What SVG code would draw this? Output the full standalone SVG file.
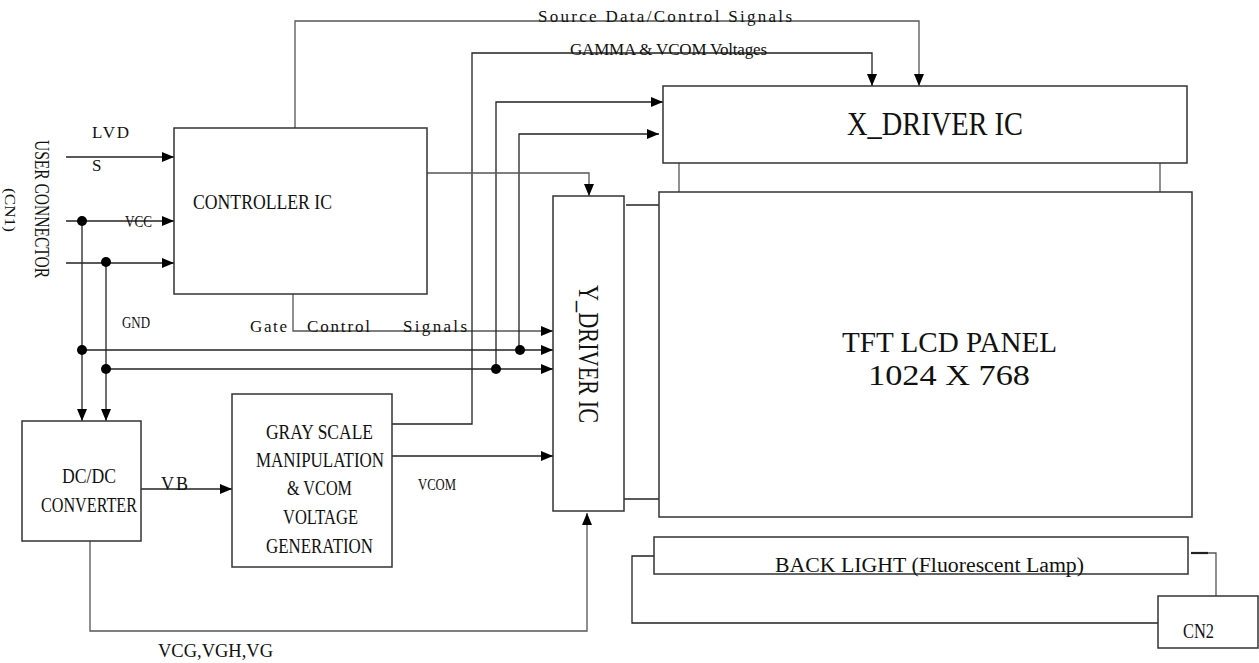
<svg xmlns="http://www.w3.org/2000/svg" width="1259" height="663" viewBox="0 0 1259 663">
<style>
.box{fill:#fff;stroke:#333;stroke-width:1.5}
.ln{fill:none;stroke:#222;stroke-width:1.3}
.lg{fill:none;stroke:#555;stroke-width:1.3}
.dot{fill:#000}
text{font-family:"Liberation Serif",serif;fill:#111}
.lbl{font-size:17px}
</style>
<defs>
<marker id="ah" markerUnits="userSpaceOnUse" markerWidth="12" markerHeight="12" viewBox="0 0 12 12" refX="12" refY="6" orient="auto">
<path d="M0,1 L12,6 L0,11 Z" fill="#000"/>
</marker>
</defs>
<rect width="1259" height="663" fill="#fff"/>

<g id="connectors">
<path class="ln" d="M66,157 H174" marker-end="url(#ah)"/>
<path class="ln" d="M66,221 H174" marker-end="url(#ah)"/>
<path class="ln" d="M66,263 H174" marker-end="url(#ah)"/>
<path class="ln" d="M82,221 V421" marker-end="url(#ah)"/>
<path class="ln" d="M106,262 V421" marker-end="url(#ah)"/>
<path class="ln" d="M82,350 H553" marker-end="url(#ah)"/>
<path class="ln" d="M106,369 H553" marker-end="url(#ah)"/>
<path class="lg" d="M293,294 V331 H553" marker-end="url(#ah)"/>
<path class="lg" d="M295,128 V21 H919 V86" marker-end="url(#ah)"/>
<path class="ln" d="M392,424 H472 V53 H872 V86" marker-end="url(#ah)"/>
<path class="ln" d="M496,369 V102 H663" marker-end="url(#ah)"/>
<path class="ln" d="M519,350 V134 H659" marker-end="url(#ah)"/>
<path class="lg" d="M427,173 H589 V196" marker-end="url(#ah)"/>
<path class="ln" d="M392,456 H553" marker-end="url(#ah)"/>
<path class="ln" d="M141,489 H232" marker-end="url(#ah)"/>
<path class="lg" d="M90,541 V631 H587 V513" marker-end="url(#ah)"/>
<path class="lg" d="M679,163 V192"/>
<path class="lg" d="M1160,163 V196"/>
<path class="ln" d="M626,205 H659"/>
<path class="ln" d="M624,499 H659"/>
<path class="ln" d="M654,556 H632 V623 H1158"/>
<path class="ln" d="M1191,553 H1208" style="stroke-width:2.2"/>
<path class="lg" d="M1208,553 H1216 V596"/>
<circle class="dot" cx="82" cy="221" r="5"/>
<circle class="dot" cx="106" cy="262" r="5"/>
<circle class="dot" cx="82" cy="350" r="5"/>
<circle class="dot" cx="106" cy="369" r="5"/>
<circle class="dot" cx="520" cy="350" r="5"/>
<circle class="dot" cx="496" cy="369" r="5"/>
<text class="lbl" x="538" y="22" textLength="254">Source Data/Control Signals</text>
<text class="lbl" x="570" y="55" textLength="197">GAMMA &amp; VCOM Voltages</text>
<text class="lbl" x="250" y="332" textLength="37">Gate</text>
<text class="lbl" x="307" y="332" textLength="63">Control</text>
<text class="lbl" x="403" y="332" textLength="64">Signals</text>
<text x="92" y="138" font-size="17" textLength="37">LVD</text>
<text x="92" y="171" font-size="17">S</text>
<text x="125" y="227" font-size="16" textLength="27" lengthAdjust="spacingAndGlyphs">VCC</text>
<text x="122" y="328" font-size="16" textLength="28" lengthAdjust="spacingAndGlyphs">GND</text>
<text x="418" y="490" font-size="16" textLength="38" lengthAdjust="spacingAndGlyphs">VCOM</text>
<text x="161" y="490" font-size="18" textLength="27">VB</text>
<text x="158" y="657" font-size="18" textLength="115" lengthAdjust="spacingAndGlyphs">VCG,VGH,VG</text>
</g>

<g id="user-connector">
<text transform="translate(35,140) rotate(90)" font-size="21" textLength="138" lengthAdjust="spacingAndGlyphs">USER CONNECTOR</text>
<text transform="translate(5,188) rotate(90)" font-size="15" textLength="44" lengthAdjust="spacingAndGlyphs">(CN1)</text>
</g>

<g id="controller">
<rect class="box" x="174" y="128" width="253" height="166"/>
<text x="193" y="209" font-size="21" textLength="139" lengthAdjust="spacingAndGlyphs">CONTROLLER IC</text>
</g>

<g id="x-driver">
<rect class="box" x="663" y="86" width="524" height="77"/>
<text x="847" y="135" font-size="34" textLength="176" lengthAdjust="spacingAndGlyphs">X_DRIVER IC</text>
</g>

<g id="y-driver">
<rect class="box" x="553" y="196" width="71" height="315"/>
<text transform="translate(579,285) rotate(90)" font-size="29" textLength="138" lengthAdjust="spacingAndGlyphs">Y_DRIVER IC</text>
</g>

<g id="tft-panel">
<rect class="box" x="659" y="192" width="533" height="325"/>
<text x="842" y="352" font-size="30" textLength="215" lengthAdjust="spacingAndGlyphs">TFT LCD PANEL</text>
<text x="868" y="385" font-size="30" textLength="162" lengthAdjust="spacingAndGlyphs">1024 X 768</text>
</g>

<g id="dcdc">
<rect class="box" x="22" y="421" width="119" height="120"/>
<text x="62" y="483" font-size="22" textLength="54" lengthAdjust="spacingAndGlyphs">DC/DC</text>
<text x="41" y="512" font-size="22" textLength="96" lengthAdjust="spacingAndGlyphs">CONVERTER</text>
</g>

<g id="gray-scale">
<rect class="box" x="232" y="394" width="160" height="173"/>
<text x="266" y="439" font-size="22" textLength="107" lengthAdjust="spacingAndGlyphs">GRAY SCALE</text>
<text x="256" y="467" font-size="22" textLength="128" lengthAdjust="spacingAndGlyphs">MANIPULATION</text>
<text x="287" y="495" font-size="22" textLength="65" lengthAdjust="spacingAndGlyphs">&amp; VCOM</text>
<text x="283" y="524" font-size="22" textLength="75" lengthAdjust="spacingAndGlyphs">VOLTAGE</text>
<text x="266" y="553" font-size="22" textLength="107" lengthAdjust="spacingAndGlyphs">GENERATION</text>
</g>

<g id="backlight">
<rect class="box" x="654" y="537" width="534" height="37"/>
<text x="775" y="572" font-size="20" textLength="309" lengthAdjust="spacingAndGlyphs">BACK LIGHT (Fluorescent Lamp)</text>
</g>

<g id="cn2">
<rect class="box" x="1158" y="596" width="100" height="52"/>
<text x="1183" y="638" font-size="20" textLength="31" lengthAdjust="spacingAndGlyphs">CN2</text>
</g>
</svg>
